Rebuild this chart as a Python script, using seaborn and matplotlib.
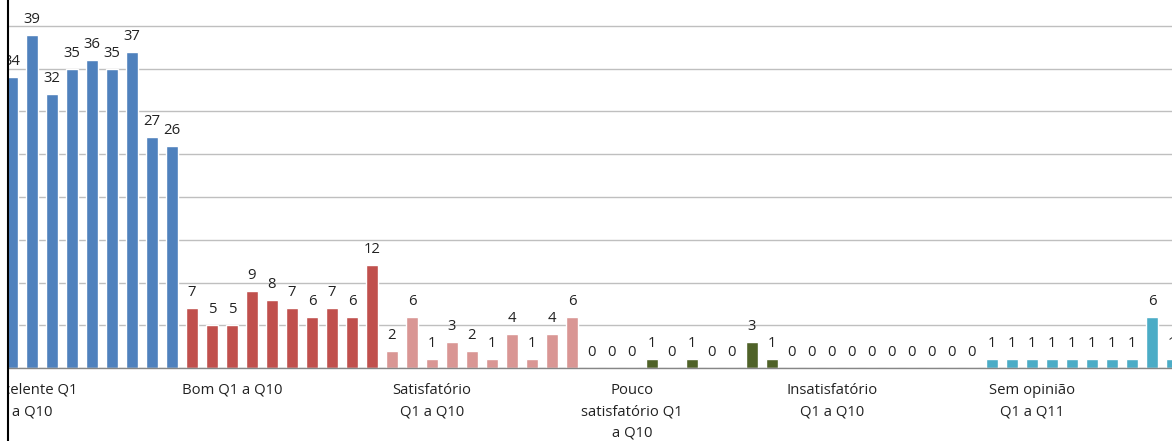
import pandas as pd
import matplotlib
matplotlib.use('Agg')
import matplotlib.pyplot as plt
import seaborn as sns
from matplotlib.lines import Line2D
from matplotlib.transforms import Bbox, TransformedBbox

# data (first Excelente and last Sem opinião bars are outside the crop)
groups = ['Excelente', 'Bom', 'Satisfatório', 'Pouco satisfatório', 'Insatisfatório', 'Sem opinião']
group_labels = ['Excelente Q1\na Q10', 'Bom Q1 a Q10', 'Satisfatório\nQ1 a Q10',
                'Pouco\nsatisfatório Q1\na Q10', 'Insatisfatório\nQ1 a Q10', 'Sem opinião\nQ1 a Q11']
excelente = [38, 34, 39, 32, 35, 36, 35, 37, 27, 26]
bom = [7, 5, 5, 9, 8, 7, 6, 7, 6, 12]
satisfatorio = [2, 6, 1, 3, 2, 1, 4, 1, 4, 6]
pouco_satisfatorio = [0, 0, 0, 1, 0, 1, 0, 0, 3, 1]
insatisfatorio = [0, 0, 0, 0, 0, 0, 0, 0, 0, 0]
sem_opiniao = [1, 1, 1, 1, 1, 1, 1, 1, 6, 1, 1]
colors = ['#4F81BD', '#C0504D', '#D99694', '#4F6228', '#8064A2', '#4BACC6']

series = [excelente, bom, satisfatorio, pouco_satisfatorio, insatisfatorio, sem_opiniao]
rows = []
group_start = []
pos = 0
for g, vals in zip(groups, series):
    group_start.append(pos)
    for v in vals:
        rows.append({'pos': pos, 'value': v, 'group': g})
        pos += 1
df = pd.DataFrame(rows)

W, H = 1172, 441
left_px, base_px = 8, 368
px_per_unit = 8.55

sns.set_style('white')
plt.rcParams['font.family'] = ['Open Sans', 'DejaVu Sans']

fig = plt.figure(figsize=(W / 100, H / 100), dpi=100)
ax = fig.add_axes([left_px / W, (H - base_px) / H, 1 - left_px / W, base_px / H])

sns.barplot(data=df, x='pos', y='value', hue='group', palette=dict(zip(groups, colors)),
            native_scale=True, dodge=False, width=0.6, saturation=1, legend=False, ax=ax)

ax.set_xlim((left_px + 8) / 20, (W + 8) / 20)
ax.set_ylim(0, base_px / px_per_unit)
ax.set_yticks(range(0, 45, 5))
ax.yaxis.grid(True, color='#BFBFBF', lw=1)
ax.set_axisbelow(True)
ax.tick_params(left=False, bottom=False, labelleft=False, labelbottom=False)
ax.set_xlabel('')
ax.set_ylabel('')
for s in ['top', 'right', 'left']:
    ax.spines[s].set_visible(False)
ax.spines['bottom'].set_color('#868686')
ax.spines['bottom'].set_linewidth(1)

clip = TransformedBbox(Bbox([[left_px / W, 0], [1, 1]]), fig.transFigure)

for _, r in df.iterrows():
    t = ax.annotate(str(r['value']), (r['pos'], r['value']), xytext=(0, 12),
                    textcoords='offset pixels', ha='center', va='baseline',
                    fontsize=10.7, color='#222222', annotation_clip=False)
    t.set_clip_box(clip)
    t.set_clip_on(True)

for start, lab in zip(group_start, group_labels):
    t = ax.annotate(lab, (start + 2, 0), xytext=(0, -15), textcoords='offset pixels',
                    ha='center', va='top', multialignment='center',
                    fontsize=10.7, color='#222222', linespacing=1.58, annotation_clip=False)
    t.set_clip_box(clip)
    t.set_clip_on(True)

fig.add_artist(Line2D([left_px / W, left_px / W], [0, 1], color='black', lw=1.5,
                      transform=fig.transFigure))

fig.savefig('out.png', dpi=100)
